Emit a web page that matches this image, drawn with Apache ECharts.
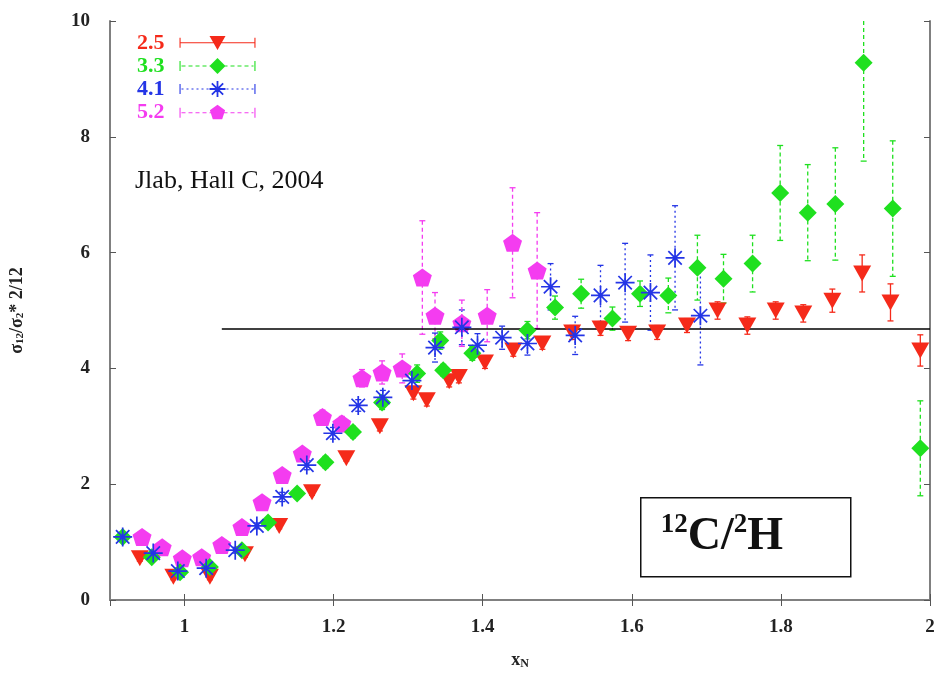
<!DOCTYPE html>
<html>
<head>
<meta charset="utf-8">
<script src="https://cdn.jsdelivr.net/npm/echarts@6/dist/echarts.min.js"></script>
<style>
  html, body { margin: 0; padding: 0; background: #fff; }
  #chart { width: 941px; height: 677px; }
</style>
</head>
<body>
<div id="chart"></div>
<script>
// data: x_N, ratio, error
var x25 = [0.940, 0.985, 1.034, 1.081, 1.127, 1.171, 1.217, 1.262, 1.307, 1.325, 1.355, 1.368, 1.403, 1.441, 1.480, 1.520, 1.558, 1.595, 1.634, 1.674, 1.715, 1.755, 1.793, 1.830, 1.869, 1.909, 1.947, 1.987];
var y25 = [0.72, 0.40, 0.40, 0.79, 1.28, 1.86, 2.45, 3.00, 3.57, 3.45, 3.78, 3.85, 4.10, 4.31, 4.43, 4.62, 4.69, 4.60, 4.62, 4.74, 5.00, 4.74, 5.00, 4.95, 5.17, 5.64, 5.14, 4.31];
var e25 = [0.05, 0.05, 0.05, 0.05, 0.05, 0.05, 0.05, 0.08, 0.1, 0.1, 0.1, 0.1, 0.1, 0.1, 0.1, 0.12, 0.12, 0.12, 0.12, 0.12, 0.15, 0.15, 0.15, 0.15, 0.2, 0.32, 0.32, 0.27];

var x33 = [0.917, 0.956, 0.994, 1.034, 1.077, 1.112, 1.151, 1.189, 1.226, 1.265, 1.312, 1.343, 1.347, 1.386, 1.460, 1.497, 1.532, 1.574, 1.611, 1.649, 1.688, 1.723, 1.762, 1.799, 1.836, 1.873, 1.911, 1.950, 1.987];
var y33 = [1.09, 0.74, 0.48, 0.57, 0.86, 1.34, 1.84, 2.38, 2.90, 3.41, 3.91, 4.48, 3.97, 4.26, 4.66, 5.05, 5.29, 4.86, 5.29, 5.26, 5.74, 5.55, 5.81, 7.03, 6.69, 6.84, 9.28, 6.76, 2.62];
var e33 = [0.05, 0.05, 0.05, 0.05, 0.05, 0.08, 0.08, 0.1, 0.1, 0.12, 0.15, 0.15, 0.1, 0.12, 0.15, 0.2, 0.25, 0.2, 0.22, 0.3, 0.56, 0.42, 0.49, 0.82, 0.83, 0.97, 1.7, 1.17, 0.82];

var x41 = [0.917, 0.958, 0.991, 1.029, 1.068, 1.097, 1.131, 1.164, 1.199, 1.233, 1.266, 1.305, 1.336, 1.372, 1.393, 1.426, 1.460, 1.491, 1.524, 1.558, 1.591, 1.625, 1.658, 1.692];
var y41 = [1.09, 0.81, 0.50, 0.55, 0.86, 1.28, 1.78, 2.33, 2.88, 3.36, 3.50, 3.79, 4.36, 4.71, 4.40, 4.53, 4.43, 5.41, 4.57, 5.26, 5.48, 5.31, 5.91, 4.91];
var e41 = [0.05, 0.05, 0.05, 0.05, 0.05, 0.05, 0.08, 0.08, 0.1, 0.1, 0.12, 0.15, 0.25, 0.3, 0.2, 0.2, 0.2, 0.4, 0.33, 0.52, 0.68, 0.65, 0.9, 0.85];

var x52 = [0.943, 0.970, 0.997, 1.023, 1.050, 1.077, 1.104, 1.131, 1.158, 1.185, 1.211, 1.238, 1.265, 1.292, 1.319, 1.336, 1.372, 1.406, 1.440, 1.473];
var y52 = [1.09, 0.91, 0.72, 0.74, 0.95, 1.26, 1.69, 2.16, 2.53, 3.16, 3.05, 3.83, 3.93, 4.00, 5.57, 4.91, 4.78, 4.91, 6.17, 5.69];
var e52 = [0.05, 0.05, 0.05, 0.05, 0.05, 0.05, 0.08, 0.08, 0.1, 0.12, 0.12, 0.15, 0.2, 0.25, 0.98, 0.4, 0.4, 0.45, 0.95, 1.0];

var seriesNames = ['2.5', '3.3', '4.1', '5.2'];
var refLine = { from: 1.05, to: 2, y: 4.69 };
var xMin = 0.9, xMax = 2, yMin = 0, yMax = 10;

var RED = '#f52a1a', GREEN = '#1fe01f', BLUE = '#2435e6', PINK = '#f43cf0';

// symbol paths (filled, clockwise)
function rect(x, y, w, h) {
  return 'M' + x + ',' + y + ' h' + w + ' v' + h + ' h' + (-w) + ' z ';
}
function rotRect(cx, cy, len, w, ang) {
  var c = Math.cos(ang), s = Math.sin(ang);
  var pts = [[-len, -w], [len, -w], [len, w], [-len, w]].map(function (p) {
    return [(cx + p[0] * c - p[1] * s).toFixed(2), (cy + p[0] * s + p[1] * c).toFixed(2)];
  });
  return 'M' + pts[0].join(',') + ' L' + pts[1].join(',') + ' L' + pts[2].join(',') + ' L' + pts[3].join(',') + ' z ';
}
function triShape(cx, cy, r) {
  return 'M' + (cx - r) + ',' + (cy - r * 0.85) + ' L' + (cx + r) + ',' + (cy - r * 0.85) + ' L' + cx + ',' + (cy + r * 0.9) + ' z ';
}
function diaShape(cx, cy, r) {
  return 'M' + cx + ',' + (cy - r) + ' L' + (cx + r) + ',' + cy + ' L' + cx + ',' + (cy + r) + ' L' + (cx - r) + ',' + cy + ' z ';
}
function starShape(cx, cy, r) {
  var p = '';
  for (var i = 0; i < 4; i++) p += rotRect(cx, cy, r, 0.9, i * Math.PI / 4);
  return p;
}
function pentShape(cx, cy, r) {
  var p = '';
  for (var i = 0; i < 5; i++) {
    var a = -Math.PI / 2 + i * 2 * Math.PI / 5;
    p += (i ? ' L' : 'M') + (cx + r * Math.cos(a)).toFixed(2) + ',' + (cy + r * Math.sin(a)).toFixed(2);
  }
  return p + ' z ';
}
function legendIcon(shape, dash) {
  var p = '';
  if (dash) {
    for (var x = 2; x < 74; x += dash[0] + dash[1]) p += rect(x, 7.5, Math.min(dash[0], 74 - x), 1);
  } else {
    p += rect(0, 7.5, 76, 1);
  }
  p += rect(0, 3, 1.1, 10) + rect(74.9, 3, 1.1, 10);
  return 'path://' + p + shape(38, 8, 8);
}

var symTri = 'path://' + triShape(10, 10, 10);
var symDia = 'path://' + diaShape(10, 10, 10);
var symStar = 'path://' + starShape(10, 10, 10);
var symPent = 'path://' + pentShape(10, 10, 10);

function pts(xs, ys) { return xs.map(function (x, i) { return [x, ys[i]]; }); }
function errPts(xs, ys, es) { return xs.map(function (x, i) { return [x, ys[i], es[i]]; }); }

function errBars(color, dash) {
  return function (params, api) {
    var x = api.value(0), y = api.value(1), e = api.value(2);
    var hi = Math.min(y + e, yMax), lo = Math.max(y - e, yMin);
    var top = api.coord([x, hi]), bot = api.coord([x, lo]);
    var style = { stroke: color, lineWidth: 1.3, lineDash: dash };
    var kids = [{ type: 'line', shape: { x1: top[0], y1: top[1], x2: bot[0], y2: bot[1] }, style: style }];
    if (y + e <= yMax) kids.push({ type: 'line', shape: { x1: top[0] - 3, y1: top[1], x2: top[0] + 3, y2: top[1] }, style: { stroke: color, lineWidth: 1.3 } });
    if (y - e >= yMin) kids.push({ type: 'line', shape: { x1: bot[0] - 3, y1: bot[1], x2: bot[0] + 3, y2: bot[1] }, style: { stroke: color, lineWidth: 1.3 } });
    return { type: 'group', children: kids };
  };
}

var chart = echarts.init(document.getElementById('chart'));
var tickFont = { fontFamily: 'Liberation Serif', fontWeight: 'bold', fontSize: 19, color: '#222' };
var frame = { show: true, lineStyle: { color: '#808080', width: 2 } };

var option = {
  backgroundColor: '#fff',
  animation: false,
  grid: { left: 110, right: 11, top: 21, bottom: 77 },
  legend: {
    orient: 'vertical',
    left: 132,
    top: 27,
    align: 'right',
    itemWidth: 76,
    itemHeight: 16,
    itemGap: 1,
    selectedMode: false,
    textStyle: { fontFamily: 'Liberation Serif', fontWeight: 'bold', fontSize: 22, lineHeight: 19, padding: [0, 10, 0, 0] },
    data: [
      { name: '2.5', icon: legendIcon(triShape), itemStyle: { color: RED, borderWidth: 0 }, textStyle: { color: RED } },
      { name: '3.3', icon: legendIcon(diaShape, [4, 3]), itemStyle: { color: GREEN, borderWidth: 0 }, textStyle: { color: GREEN } },
      { name: '4.1', icon: legendIcon(starShape, [2, 3]), itemStyle: { color: BLUE, borderWidth: 0 }, textStyle: { color: BLUE } },
      { name: '5.2', icon: legendIcon(pentShape, [4, 3]), itemStyle: { color: PINK, borderWidth: 0 }, textStyle: { color: PINK } }
    ]
  },
  xAxis: [{
    type: 'value', min: xMin, max: xMax, splitNumber: 5,
    name: '{x|x}{n|N}', nameLocation: 'middle', nameGap: 50,
    nameTextStyle: { rich: {
      x: { fontFamily: 'Liberation Serif', fontWeight: 'bold', fontSize: 18, color: '#222' },
      n: { fontFamily: 'Liberation Serif', fontWeight: 'bold', fontSize: 12, color: '#222', padding: [8, 0, 0, 0] }
    } },
    axisLine: frame, splitLine: { show: false },
    axisTick: { inside: true, length: 6, lineStyle: { color: '#555' } },
    axisLabel: Object.assign({ margin: 18, showMinLabel: false }, tickFont)
  }, {
    type: 'value', position: 'top', min: xMin, max: xMax, splitNumber: 5,
    axisLine: frame, splitLine: { show: false },
    axisTick: { inside: true, length: 6, lineStyle: { color: '#555' } },
    axisLabel: { show: false }
  }],
  yAxis: [{
    type: 'value', min: yMin, max: yMax, interval: 2,
    name: '{s|σ}{b|12}{s|/σ}{b|2}{s|* 2/12}', nameLocation: 'middle', nameGap: 84, nameRotate: 90,
    nameTextStyle: { rich: {
      s: { fontFamily: 'Liberation Serif', fontWeight: 'bold', fontSize: 18, color: '#222' },
      b: { fontFamily: 'Liberation Serif', fontWeight: 'bold', fontSize: 11, color: '#222', padding: [7, 0, 0, 0] }
    } },
    axisLine: frame, splitLine: { show: false },
    axisTick: { inside: true, length: 6, lineStyle: { color: '#555' } },
    axisLabel: Object.assign({ margin: 20 }, tickFont)
  }, {
    type: 'value', position: 'right', min: yMin, max: yMax, interval: 2,
    axisLine: frame, splitLine: { show: false },
    axisTick: { inside: true, length: 6, lineStyle: { color: '#555' } },
    axisLabel: { show: false }
  }],
  series: [
    { type: 'custom', name: 'err25', renderItem: errBars(RED, null), data: errPts(x25, y25, e25), z: 2, silent: true, clip: true },
    { type: 'custom', name: 'err33', renderItem: errBars(GREEN, [4, 3]), data: errPts(x33, y33, e33), z: 2, silent: true, clip: true },
    { type: 'custom', name: 'err41', renderItem: errBars(BLUE, [2, 3]), data: errPts(x41, y41, e41), z: 2, silent: true, clip: true },
    { type: 'custom', name: 'err52', renderItem: errBars(PINK, [4, 3]), data: errPts(x52, y52, e52), z: 2, silent: true, clip: true },
    {
      type: 'scatter', name: seriesNames[0], data: pts(x25, y25), symbol: symTri, symbolSize: [18, 16],
      itemStyle: { color: RED, opacity: 1 }, z: 5,
      markLine: {
        silent: true, symbol: 'none', label: { show: false },
        lineStyle: { color: '#000', width: 1.6, type: 'solid' },
        data: [[{ coord: [refLine.from, refLine.y] }, { coord: [refLine.to, refLine.y] }]]
      }
    },
    { type: 'scatter', name: seriesNames[1], data: pts(x33, y33), symbol: symDia, symbolSize: [18, 18], itemStyle: { color: GREEN, opacity: 1 }, z: 5 },
    { type: 'scatter', name: seriesNames[2], data: pts(x41, y41), symbol: symStar, symbolSize: [19, 19], itemStyle: { color: BLUE, opacity: 1 }, z: 5 },
    { type: 'scatter', name: seriesNames[3], data: pts(x52, y52), symbol: symPent, symbolSize: [19, 18], itemStyle: { color: PINK, opacity: 1 }, z: 4 }
  ],
  graphic: [
    {
      type: 'text', left: 135, top: 168, z: 10,
      style: { text: 'Jlab, Hall C, 2004', fontFamily: 'Liberation Serif', fontSize: 26, fill: '#111' }
    },
    {
      type: 'group', left: 640, top: 497, z: 10,
      children: [
        { type: 'rect', shape: { x: 0, y: 0, width: 210, height: 79 }, style: { fill: '#fff', stroke: '#111', lineWidth: 1.5 } },
        {
          type: 'text', x: 20, y: 14,
          style: {
            text: '{sup|12}{big|C/}{sup|2}{big|H}',
            rich: {
              big: { fontFamily: 'Liberation Serif', fontWeight: 'bold', fontSize: 46, fill: '#111', lineHeight: 50 },
              sup: { fontFamily: 'Liberation Serif', fontWeight: 'bold', fontSize: 27, fill: '#111', verticalAlign: 'top', lineHeight: 50, padding: [0, 0, 18, 0] }
            }
          }
        }
      ]
    }
  ]
};
chart.setOption(option);
</script>
</body>
</html>
